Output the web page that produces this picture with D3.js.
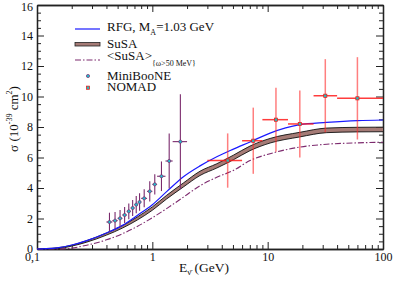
<!DOCTYPE html>
<html>
<head>
<meta charset="utf-8">
<script src="https://cdn.jsdelivr.net/npm/d3@7"></script>
<style>
  html, body { margin: 0; padding: 0; background: #fff; }
  svg text { font-family: "Liberation Serif", "DejaVu Serif", serif; fill: #111; }
</style>
</head>
<body>
<div id="chart"></div>
<script>
// Energy grid (GeV) shared by the three theory curves
var energyGrid = [0.1, 0.12, 0.15, 0.2, 0.27, 0.4, 0.55, 0.74, 1.0, 1.33, 1.86, 2.59, 3.62, 5.04, 7.03, 10.5, 19, 32.5, 60, 100];
var rfgSigma   = [0, 0.02, 0.08, 0.26, 0.55, 1.05, 1.55, 2.2, 2.9, 3.76, 4.74, 5.45, 6.05, 6.55, 7.02, 7.6, 8.15, 8.3, 8.42, 8.46];
var susaLo     = [0, 0, 0.02, 0.19, 0.45, 0.91, 1.37, 1.9, 2.54, 3.28, 4.07, 4.82, 5.31, 5.85, 6.45, 6.95, 7.35, 7.63, 7.68, 7.69];
var susaHi     = [0, 0.03, 0.08, 0.25, 0.55, 1.05, 1.53, 2.1, 2.76, 3.52, 4.33, 5.1, 5.59, 6.15, 6.75, 7.25, 7.65, 7.93, 7.98, 7.99];
var susaCutSigma = [0, 0, 0, 0.06, 0.25, 0.6, 1.0, 1.48, 2.05, 2.65, 3.4, 4.15, 4.7, 5.15, 5.8, 6.25, 6.68, 6.87, 6.96, 7.0];

// MiniBooNE antineutrino data
var mbE     = [0.425, 0.475, 0.525, 0.575, 0.625, 0.675, 0.725, 0.775, 0.85, 0.95, 1.05, 1.2, 1.4, 1.75];
var mbELo   = [0.4, 0.45, 0.5, 0.55, 0.6, 0.65, 0.7, 0.75, 0.8, 0.9, 1.0, 1.1, 1.3, 1.5];
var mbEHi   = [0.45, 0.5, 0.55, 0.6, 0.65, 0.7, 0.75, 0.8, 0.9, 1.0, 1.1, 1.3, 1.5, 2.0];
var mbSigma = [1.77, 1.86, 2.01, 2.23, 2.47, 2.69, 2.91, 3.08, 3.32, 3.78, 4.24, 4.77, 5.77, 7.04];
var mbErr   = [0.61, 0.57, 0.55, 0.52, 0.52, 0.52, 0.57, 0.57, 0.59, 0.67, 0.66, 0.97, 1.8, 3.1];

// NOMAD data
var nomE     = [4.5, 7.5, 11.8, 19, 31.6, 60];
var nomELo   = [3, 6, 9, 15, 25, 40];
var nomEHi   = [6, 9, 15, 25, 40, 100];
var nomSigma = [5.8, 7.1, 8.48, 8.2, 10.05, 9.88];
var nomErr   = [1.78, 2.17, 2.1, 2.2, 2.4, 2.7];

var yMajor = [0, 2, 4, 6, 8, 10, 12, 14, 16];
var xMajor = [0.1, 1, 10, 100];

var W = 394, H = 282;
var padL = 37, padR = 383, padT = 5, padB = 249;

var svg = d3.select("#chart").append("svg")
  .attr("width", W).attr("height", H);

var x = d3.scaleLog().domain([0.1, 100]).range([padL, padR]);
var y = d3.scaleLinear().domain([0, 16]).range([padB, padT]);

var xMinor = [];
[0.1, 1, 10].forEach(function (d) {
  for (var k = 2; k <= 9; k++) xMinor.push(d * k);
});
var yMinor = d3.range(0, 16.01, 0.5).filter(function (v) { return v % 2 !== 0; });

// Axes (ticks point inward, mirrored on all four sides)
function styleAxis(g) {
  g.selectAll(".domain").attr("stroke", "#222").attr("stroke-width", 1.3);
  g.selectAll(".tick line").attr("stroke", "#222").attr("stroke-width", 1);
  g.selectAll("text").attr("font-size", 12).attr("fill", "#111")
    .attr("font-family", "Liberation Serif, serif");
}

svg.append("g").attr("transform", "translate(0," + padB + ")")
  .call(d3.axisBottom(x).tickValues(xMinor).tickSize(-4).tickSizeOuter(0).tickFormat(""))
  .call(styleAxis);
svg.append("g").attr("transform", "translate(0," + padB + ")")
  .call(d3.axisBottom(x).tickValues(xMajor).tickSize(-7).tickSizeOuter(0).tickPadding(3)
    .tickFormat(function (d) { return d === 0.1 ? "0,1" : d3.format("d")(d); }))
  .call(styleAxis)
  .call(function (g) {
    g.selectAll("text").filter(function (d) { return d === 0.1; }).attr("dx", -5);
  });
svg.append("g").attr("transform", "translate(0," + padT + ")")
  .call(d3.axisTop(x).tickValues(xMinor).tickSize(-4).tickSizeOuter(0).tickFormat(""))
  .call(styleAxis);
svg.append("g").attr("transform", "translate(0," + padT + ")")
  .call(d3.axisTop(x).tickValues(xMajor).tickSize(-7).tickSizeOuter(0).tickFormat(""))
  .call(styleAxis);

svg.append("g").attr("transform", "translate(" + padL + ",0)")
  .call(d3.axisLeft(y).tickValues(yMinor).tickSize(-4).tickSizeOuter(0).tickFormat(""))
  .call(styleAxis);
svg.append("g").attr("transform", "translate(" + padL + ",0)")
  .call(d3.axisLeft(y).tickValues(yMajor).tickSize(-7).tickSizeOuter(0).tickPadding(4))
  .call(styleAxis)
  .call(function (g) {
    g.selectAll("text").filter(function (d) { return d === 16; }).attr("dy", "0.45em");
  });
svg.append("g").attr("transform", "translate(" + padR + ",0)")
  .call(d3.axisRight(y).tickValues(yMinor).tickSize(-4).tickSizeOuter(0).tickFormat(""))
  .call(styleAxis);
svg.append("g").attr("transform", "translate(" + padR + ",0)")
  .call(d3.axisRight(y).tickValues(yMajor).tickSize(-7).tickSizeOuter(0).tickFormat(""))
  .call(styleAxis);

var plot = svg.append("g");

// SuSA band
var band = d3.area()
  .x(function (d, i) { return x(energyGrid[i]); })
  .y0(function (d, i) { return y(susaLo[i]); })
  .y1(function (d, i) { return y(susaHi[i]); })
  .curve(d3.curveMonotoneX);
var lineOf = function (arr) {
  return d3.line()
    .x(function (d, i) { return x(energyGrid[i]); })
    .y(function (d, i) { return y(arr[i]); })
    .curve(d3.curveMonotoneX)(arr);
};

plot.append("path").attr("d", band(energyGrid))
  .attr("fill", "#a57b76").attr("stroke", "none");
plot.append("path").attr("d", lineOf(susaLo))
  .attr("fill", "none").attr("stroke", "#111").attr("stroke-width", 0.9);
plot.append("path").attr("d", lineOf(susaHi))
  .attr("fill", "none").attr("stroke", "#111").attr("stroke-width", 0.9);

// <SuSA> omega cut
plot.append("path").attr("d", lineOf(susaCutSigma))
  .attr("fill", "none").attr("stroke", "#7d2a6e").attr("stroke-width", 1.1)
  .attr("stroke-dasharray", "6,2,1.5,2");

// RFG
plot.append("path").attr("d", lineOf(rfgSigma))
  .attr("fill", "none").attr("stroke", "#1a1aff").attr("stroke-width", 1.2);

// MiniBooNE error bars and markers
var mbColor = "#7a2a6c";
var mb = plot.append("g");
mbE.forEach(function (e, i) {
  mb.append("line")
    .attr("x1", x(e)).attr("x2", x(e))
    .attr("y1", y(mbSigma[i] - mbErr[i])).attr("y2", y(mbSigma[i] + mbErr[i]))
    .attr("stroke", mbColor).attr("stroke-width", 1.1);
  mb.append("line")
    .attr("x1", x(mbELo[i])).attr("x2", x(mbEHi[i]))
    .attr("y1", y(mbSigma[i])).attr("y2", y(mbSigma[i]))
    .attr("stroke", mbColor).attr("stroke-width", 1.1);
});
mb.selectAll("circle").data(mbE).join("circle")
  .attr("cx", function (d) { return x(d); })
  .attr("cy", function (d, i) { return y(mbSigma[i]); })
  .attr("r", 1.6)
  .attr("fill", "#22c0d0").attr("stroke", mbColor).attr("stroke-width", 0.7);

// NOMAD error bars and markers
var nom = plot.append("g");
nomE.forEach(function (e, i) {
  nom.append("line")
    .attr("x1", x(e)).attr("x2", x(e))
    .attr("y1", y(nomSigma[i] - nomErr[i])).attr("y2", y(nomSigma[i] + nomErr[i]))
    .attr("stroke", "#ff2a2a").attr("stroke-width", 1.5).attr("stroke-opacity", 0.6);
  nom.append("line")
    .attr("x1", x(nomELo[i])).attr("x2", x(nomEHi[i]))
    .attr("y1", y(nomSigma[i])).attr("y2", y(nomSigma[i]))
    .attr("stroke", "#ff1a1a").attr("stroke-width", 1.5).attr("stroke-opacity", 0.85);
});
nom.selectAll("rect").data(nomE).join("rect")
  .attr("x", function (d) { return x(d) - 1.6; })
  .attr("y", function (d, i) { return y(nomSigma[i]) - 1.6; })
  .attr("width", 3.2).attr("height", 3.2)
  .attr("fill", "#2fb8b8").attr("stroke", "#ee1111").attr("stroke-width", 0.7);

// Legend
var lg = svg.append("g").attr("font-size", 13);
lg.append("line").attr("x1", 75).attr("x2", 100).attr("y1", 29).attr("y2", 29)
  .attr("stroke", "#1a1aff").attr("stroke-width", 1.2);
var t1 = lg.append("text").attr("x", 107).attr("y", 30.5);
t1.append("tspan").text("RFG, M");
t1.append("tspan").attr("font-size", 8).attr("dy", 4).text("A");
t1.append("tspan").attr("dy", -4).text("=1.03 GeV");

lg.append("rect").attr("x", 75).attr("y", 42.5).attr("width", 25).attr("height", 3.5)
  .attr("fill", "#a57b76").attr("stroke", "#222").attr("stroke-width", 0.8);
lg.append("text").attr("x", 107).attr("y", 48).text("SuSA");

lg.append("line").attr("x1", 75).attr("x2", 100).attr("y1", 60).attr("y2", 60)
  .attr("stroke", "#7d2a6e").attr("stroke-width", 1.1).attr("stroke-dasharray", "6,2,1.5,2");
var t3 = lg.append("text").attr("x", 107).attr("y", 59.5);
t3.append("tspan").text("<SuSA>");
t3.append("tspan").attr("font-size", 8).attr("dy", 6).text("{ω>50 MeV}");

lg.append("circle").attr("cx", 88).attr("cy", 76).attr("r", 1.6)
  .attr("fill", "#22c0d0").attr("stroke", mbColor).attr("stroke-width", 0.7);
lg.append("text").attr("x", 107).attr("y", 80).text("MiniBooNE");

lg.append("rect").attr("x", 86.4).attr("y", 86.1).attr("width", 3.2).attr("height", 3.2)
  .attr("fill", "#2fb8b8").attr("stroke", "#ee1111").attr("stroke-width", 0.7);
lg.append("text").attr("x", 107).attr("y", 91).text("NOMAD");

// Axis titles
var yt = svg.append("text")
  .attr("transform", "translate(18,119) rotate(-90)")
  .attr("text-anchor", "middle").attr("font-size", 13);
yt.append("tspan").text("σ (10");
yt.append("tspan").attr("font-size", 8).attr("dy", -6).text("-39");
yt.append("tspan").attr("dy", 6).text(" cm");
yt.append("tspan").attr("font-size", 8).attr("dy", -6).text("2");
yt.append("tspan").attr("dy", 6).text(")");

var xt = svg.append("text")
  .attr("x", 204).attr("y", 271.5)
  .attr("text-anchor", "middle").attr("font-size", 13.5);
xt.append("tspan").text("E");
xt.append("tspan").attr("font-size", 9).attr("dy", 3).text("ν\u0304");
xt.append("tspan").attr("dy", -3).text(" (GeV)");
</script>
</body>
</html>
